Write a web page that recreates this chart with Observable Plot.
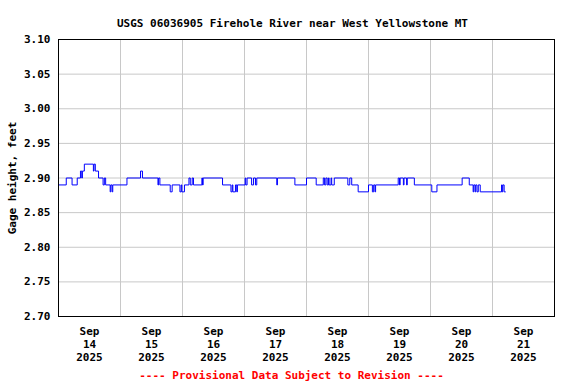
<!DOCTYPE html>
<html>
<head>
<meta charset="utf-8">
<script src="https://cdn.jsdelivr.net/npm/d3@7"></script>
<script src="https://cdn.jsdelivr.net/npm/@observablehq/plot@0.6"></script>
<style>
  html, body { margin: 0; padding: 0; background: #fff; }
</style>
</head>
<body>
<div id="chart"></div>
<script>
const titleText = "USGS 06036905 Firehole River near West Yellowstone MT";
const footerText = "---- Provisional Data Subject to Revision ----";
const yLabel = "Gage height, feet";

// Change points of the stepped gage-height record (local time)
const times = [
  "2025-09-14T00:00","2025-09-14T03:00","2025-09-14T05:15","2025-09-14T07:15","2025-09-14T08:30",
  "2025-09-14T09:00","2025-09-14T09:15","2025-09-14T10:00","2025-09-14T13:30","2025-09-14T13:45",
  "2025-09-14T14:15","2025-09-14T15:30","2025-09-14T17:15","2025-09-14T17:45","2025-09-14T18:15",
  "2025-09-14T20:00","2025-09-14T20:15","2025-09-14T20:45","2025-09-14T21:00","2025-09-15T02:30",
  "2025-09-15T07:45","2025-09-15T08:30","2025-09-15T14:30","2025-09-15T14:45","2025-09-15T15:15",
  "2025-09-15T19:15","2025-09-15T20:00","2025-09-15T23:00","2025-09-15T23:30","2025-09-15T23:45",
  "2025-09-16T00:45","2025-09-16T02:30","2025-09-16T03:00","2025-09-16T03:45","2025-09-16T04:15",
  "2025-09-16T07:30","2025-09-16T07:45","2025-09-16T08:00","2025-09-16T15:30","2025-09-16T18:45",
  "2025-09-16T19:15","2025-09-16T19:30","2025-09-16T20:30","2025-09-16T21:00","2025-09-16T21:15",
  "2025-09-17T00:15","2025-09-17T00:30","2025-09-17T01:00","2025-09-17T02:45","2025-09-17T03:30",
  "2025-09-17T04:15","2025-09-17T04:45","2025-09-17T12:30","2025-09-17T12:45","2025-09-17T19:30",
  "2025-09-18T00:00","2025-09-18T03:45","2025-09-18T06:30","2025-09-18T07:00","2025-09-18T07:30",
  "2025-09-18T08:00","2025-09-18T08:30","2025-09-18T08:45","2025-09-18T09:30","2025-09-18T09:45",
  "2025-09-18T10:45","2025-09-18T16:00","2025-09-18T16:45","2025-09-18T17:30","2025-09-18T20:00",
  "2025-09-19T00:00","2025-09-19T01:30","2025-09-19T02:00","2025-09-19T02:30","2025-09-19T02:45",
  "2025-09-19T11:30","2025-09-19T12:00","2025-09-19T12:15","2025-09-19T13:30","2025-09-19T13:45",
  "2025-09-19T14:45","2025-09-19T15:00","2025-09-19T17:45","2025-09-20T00:30","2025-09-20T02:30",
  "2025-09-20T12:15","2025-09-20T15:00","2025-09-20T16:30","2025-09-20T16:45","2025-09-20T17:15",
  "2025-09-20T17:30","2025-09-20T18:00","2025-09-20T18:30","2025-09-20T19:15","2025-09-21T03:30",
  "2025-09-21T03:45","2025-09-21T04:00","2025-09-21T04:30","2025-09-21T05:00"
];
const gage = [
  2.89,2.90,2.89,2.90,2.91,
  2.90,2.91,2.92,2.91,2.92,
  2.91,2.90,2.89,2.90,2.89,
  2.88,2.89,2.88,2.89,2.90,
  2.91,2.90,2.89,2.90,2.89,
  2.88,2.89,2.88,2.89,2.88,
  2.89,2.90,2.89,2.90,2.89,
  2.90,2.89,2.90,2.89,2.88,
  2.89,2.88,2.89,2.88,2.89,
  2.90,2.89,2.90,2.89,2.90,
  2.89,2.90,2.89,2.90,2.89,
  2.90,2.89,2.90,2.89,2.90,
  2.89,2.90,2.89,2.90,2.89,
  2.90,2.89,2.90,2.89,2.88,
  2.89,2.88,2.89,2.88,2.89,
  2.90,2.89,2.90,2.89,2.90,
  2.89,2.90,2.89,2.88,2.89,
  2.90,2.89,2.88,2.89,2.88,
  2.89,2.88,2.89,2.88,2.89,
  2.88,2.89,2.88,2.88
];

const xDomain = ["2025-09-14T00:00", "2025-09-22T00:00"];
const gridDays = ["2025-09-15T00:00","2025-09-16T00:00","2025-09-17T00:00","2025-09-18T00:00",
                  "2025-09-19T00:00","2025-09-20T00:00","2025-09-21T00:00"];
const labelDays = ["2025-09-14T12:00","2025-09-15T12:00","2025-09-16T12:00","2025-09-17T12:00",
                   "2025-09-18T12:00","2025-09-19T12:00","2025-09-20T12:00","2025-09-21T12:00"];
const yTicks = [2.70, 2.75, 2.80, 2.85, 2.90, 2.95, 3.00, 3.05, 3.10];

const data = times.map((t, i) => ({date: new Date(t), value: gage[i]}));
const fmt = d3.timeFormat("%b\n%-d\n%Y");

const chart = Plot.plot({
  width: 576,
  height: 384,
  marginLeft: 58,
  marginRight: 22,
  marginTop: 39,
  marginBottom: 68,
  style: {fontFamily: "'DejaVu Sans Mono', monospace", fontSize: "11px", fontWeight: "bold", background: "white", color: "black"},
  x: {type: "time", domain: xDomain.map(d => new Date(d))},
  y: {domain: [2.70, 3.10]},
  marks: [
    Plot.gridX(gridDays.map(d => new Date(d)), {stroke: "#c8c8c8", strokeOpacity: 1}),
    Plot.gridY(yTicks.slice(1, -1), {stroke: "#c8c8c8", strokeOpacity: 1}),
    Plot.axisY(yTicks, {tickSize: 0, tickPadding: 8, tickFormat: d => d.toFixed(2),
      label: yLabel, labelAnchor: "center", labelArrow: "none", labelOffset: 50}),
    Plot.axisX(labelDays.map(d => new Date(d)), {tickSize: 0, tickPadding: 10, tickFormat: fmt,
      label: null, lineHeight: 1.15}),
    Plot.lineY(data, {x: "date", y: "value", curve: "step-after", stroke: "#0000ff", strokeWidth: 1}),
    Plot.frame({stroke: "black"}),
    Plot.text([titleText], {frameAnchor: "top", dy: -20, dx: -14, fill: "black"}),
    Plot.text([footerText], {frameAnchor: "bottom", dy: 62, dx: -15, fill: "#ff0000"})
  ]
});
document.getElementById("chart").appendChild(chart);
</script>
</body>
</html>
